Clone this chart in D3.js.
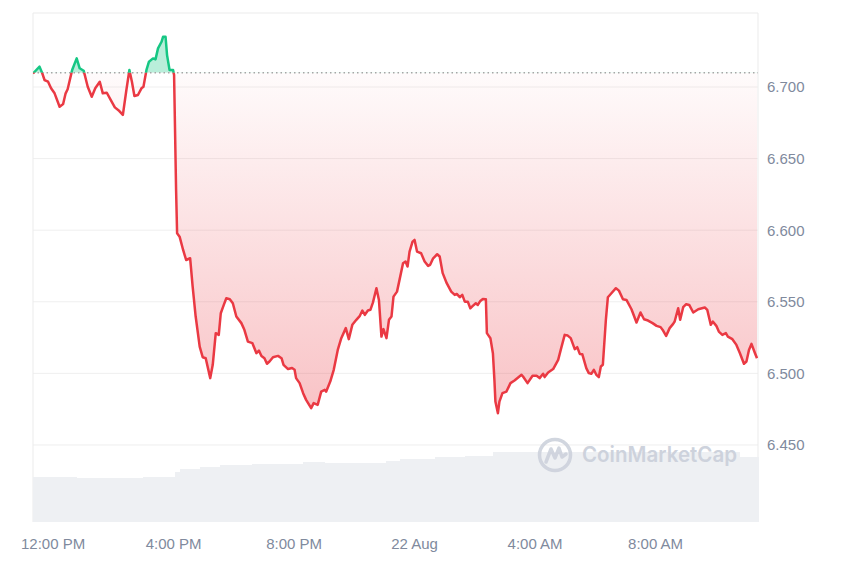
<!DOCTYPE html>
<html>
<head>
<meta charset="utf-8">
<script src="https://cdn.jsdelivr.net/npm/d3@7"></script>
<style>
  body { margin: 0; background: #fff; }
  text { font-family: "Liberation Sans", Arial, sans-serif; }
</style>
</head>
<body>
<svg id="chart"></svg>
<script>
// price points: [minutes from 12:00 PM on 21 Aug, price]
const pricePoints = [
  [-39,6.7095],[-26,6.7142],[-21,6.7100],[-16,6.7049],[-9,6.7037],[-3,6.6991],[4,6.6956],[14,6.6862],
  [21,6.6881],[26,6.6956],[30,6.6984],[39,6.7119],[48,6.7200],[54,6.7131],[62,6.7114],[70,6.7002],
  [78,6.6932],[85,6.6991],[94,6.7037],[100,6.6956],[108,6.6960],[116,6.6909],[124,6.6858],[133,6.6832],
  [140,6.6805],[147,6.6979],[153,6.7119],[158,6.7037],[163,6.6937],[170,6.6944],[177,6.6991],[181,6.7002],
  [187,6.7119],[192,6.7177],[200,6.7200],[205,6.7193],[210,6.7270],[217,6.7316],[220,6.7351],[225,6.7351],
  [228,6.7223],[233,6.7119],[240,6.7119],[242,6.7084],[246,6.6280],[248,6.5979],[253,6.5955],[260,6.5862],
  [266,6.5792],[274,6.5804],[279,6.5606],[285,6.5397],[293,6.5187],[299,6.5113],[305,6.5106],[314,6.4967],
  [319,6.5060],[325,6.5281],[331,6.5269],[335,6.5420],[341,6.5478],[346,6.5525],[353,6.5518],[359,6.5490],
  [366,6.5397],[376,6.5351],[382,6.5304],[389,6.5222],[398,6.5211],[406,6.5141],[411,6.5159],[416,6.5122],
  [422,6.5106],[427,6.5067],[432,6.5083],[439,6.5113],[449,6.5122],[456,6.5106],[460,6.5060],[469,6.5030],
  [477,6.5037],[482,6.5025],[485,6.4967],[492,6.4932],[499,6.4862],[505,6.4815],[515,6.4757],[520,6.4792],
  [528,6.4780],[535,6.4873],[542,6.4885],[545,6.4873],[553,6.4943],[560,6.5025],[568,6.5164],[575,6.5246],
  [584,6.5316],[590,6.5239],[597,6.5339],[605,6.5374],[612,6.5402],[617,6.5439],[622,6.5409],[628,6.5439],
  [633,6.5444],[638,6.5494],[645,6.5595],[650,6.5513],[655,6.5257],[659,6.5309],[665,6.5246],[670,6.5374],
  [675,6.5397],[679,6.5536],[686,6.5571],[691,6.5653],[698,6.5769],[703,6.5781],[707,6.5746],[711,6.5850],
  [717,6.5920],[721,6.5932],[726,6.5850],[734,6.5839],[741,6.5781],[748,6.5751],[752,6.5758],[758,6.5804],
  [766,6.5832],[771,6.5816],[777,6.5700],[785,6.5630],[794,6.5571],[801,6.5548],[805,6.5555],[811,6.5532],
  [816,6.5548],[821,6.5501],[827,6.5501],[832,6.5455],[837,6.5471],[843,6.5490],[847,6.5478],[852,6.5506],
  [857,6.5520],[863,6.5518],[865,6.5281],[872,6.5246],[877,6.5141],[880,6.4955],[882,6.4803],[887,6.4722],
  [890,6.4803],[896,6.4862],[904,6.4873],[912,6.4932],[920,6.4950],[934,6.4990],[937,6.4978],[946,6.4932],
  [956,6.4983],[964,6.4983],[970,6.4967],[977,6.4997],[980,6.4974],[987,6.5006],[997,6.5030],[1007,6.5094],
  [1013,6.5176],[1020,6.5269],[1026,6.5264],[1032,6.5246],[1040,6.5169],[1045,6.5183],[1050,6.5136],[1055,6.5134],
  [1063,6.5037],[1068,6.5002],[1073,6.4997],[1078,6.5025],[1083,6.4990],[1088,6.4974],[1092,6.5048],[1096,6.5060],
  [1102,6.5374],[1106,6.5532],[1113,6.5560],[1122,6.5595],[1128,6.5578],[1136,6.5518],[1143,6.5513],[1153,6.5448],
  [1163,6.5355],[1171,6.5425],[1178,6.5378],[1186,6.5369],[1195,6.5351],[1203,6.5332],[1211,6.5323],[1216,6.5299],
  [1222,6.5262],[1229,6.5316],[1236,6.5346],[1239,6.5362],[1246,6.5455],[1250,6.5374],[1256,6.5462],[1262,6.5483],
  [1268,6.5478],[1276,6.5425],[1286,6.5448],[1299,6.5460],[1304,6.5443],[1311,6.5339],[1315,6.5362],[1322,6.5332],
  [1327,6.5292],[1334,6.5269],[1341,6.5281],[1345,6.5257],[1354,6.5239],[1362,6.5199],[1369,6.5141],[1377,6.5067],
  [1382,6.5083],[1387,6.5164],[1392,6.5206],[1399,6.5141],[1403,6.5106]
];

// volume steps: [start minute, volume], last step runs to the end of the range
const volumeSteps = [
  [-39,45.3],[47,43.7],[180,45],[243,50.3],[253,52.7],[293,55.3],[333,57],[398,58.3],
  [498,59.7],[542,58.7],[558,59.3],[665,61],[691,62.7],[761,64.7],[821,66],[877,70],[1369,65.3]
];

const openPrice = 6.710;
const priceTicks = [6.45, 6.5, 6.55, 6.6, 6.65, 6.7];
const rangeMinutes = [-39, 1405];
const priceDomain = [6.3962, 6.7517];

const W = 850, H = 567;
const pLeft = 33, pRight = 758, pTop = 13, pBottom = 522;

const noon = new Date(2024, 7, 21, 12, 0);
const toDate = m => new Date(noon.getTime() + m * 60000);

const svg = d3.select("#chart").attr("width", W).attr("height", H);

const x = d3.scaleTime().domain(rangeMinutes.map(toDate)).range([pLeft, pRight]);
const y = d3.scaleLinear().domain(priceDomain).range([pBottom, pTop]);
const vy = d3.scaleLinear().domain([0, 100]).range([pBottom, pBottom - 100]);

const yBase = y(openPrice);

const defs = svg.append("defs");
defs.append("clipPath").attr("id", "clip-up")
  .append("rect").attr("x", pLeft).attr("y", pTop).attr("width", pRight - pLeft).attr("height", yBase - pTop);
defs.append("clipPath").attr("id", "clip-down")
  .append("rect").attr("x", pLeft).attr("y", yBase).attr("width", pRight - pLeft).attr("height", pBottom - yBase);

const grad = defs.append("linearGradient").attr("id", "red-grad")
  .attr("gradientUnits", "userSpaceOnUse")
  .attr("x1", 0).attr("x2", 0).attr("y1", yBase).attr("y2", 430);
grad.append("stop").attr("offset", 0).attr("stop-color", "#ea3943").attr("stop-opacity", 0.02);
grad.append("stop").attr("offset", 1).attr("stop-color", "#ea3943").attr("stop-opacity", 0.32);

// grid lines
svg.append("g").selectAll("line").data(priceTicks).join("line")
  .attr("x1", pLeft).attr("x2", pRight)
  .attr("y1", d => y(d)).attr("y2", d => y(d))
  .attr("stroke", "#efefef").attr("stroke-width", 1);

// plot border (left, top, right)
svg.append("path")
  .attr("d", `M${pLeft},${pBottom}V${pTop}H${pRight}V${pBottom}`)
  .attr("fill", "none").attr("stroke", "#ebebeb").attr("stroke-width", 1);

// volume
svg.append("g").attr("shape-rendering", "crispEdges")
  .selectAll("rect").data(volumeSteps).join("rect")
  .attr("x", d => x(toDate(d[0])))
  .attr("width", (d, i) => {
    const end = i < volumeSteps.length - 1 ? volumeSteps[i + 1][0] : rangeMinutes[1];
    return x(toDate(end)) - x(toDate(d[0])) + 0.5;
  })
  .attr("y", d => vy(d[1]))
  .attr("height", d => pBottom - vy(d[1]))
  .attr("fill", "#eef0f3");

// watermark
const wm = svg.append("g").attr("transform", "translate(555,455)").attr("opacity", 0.9);
wm.append("circle").attr("r", 15.5).attr("fill", "none").attr("stroke", "#cdd2dc").attr("stroke-width", 3.5);
wm.append("path").attr("d", "M-9,7 L-4,-6 L0,3 L4,-7 L7,2 L11,-1")
  .attr("fill", "none").attr("stroke", "#cdd2dc").attr("stroke-width", 3.5)
  .attr("stroke-linejoin", "round").attr("stroke-linecap", "round");
svg.append("text").attr("x", 582).attr("y", 462)
  .attr("textLength", 155).attr("lengthAdjust", "spacingAndGlyphs")
  .style("font-family", "Inter, 'Open Sans', sans-serif")
  .style("font-size", "21px").style("font-weight", 600)
  .attr("fill", "#cdd2dc").text("CoinMarketCap");

// area fills
const pts = pricePoints.map(d => ({ t: toDate(d[0]), v: d[1] }));
const area = d3.area().x(d => x(d.t)).y0(yBase).y1(d => y(d.v));
const line = d3.line().x(d => x(d.t)).y(d => y(d.v));

svg.append("path").datum(pts).attr("clip-path", "url(#clip-up)")
  .attr("d", area).attr("fill", "#16c784").attr("fill-opacity", 0.3);
svg.append("path").datum(pts).attr("clip-path", "url(#clip-down)")
  .attr("d", area).attr("fill", "url(#red-grad)");

// opening price reference
svg.append("line")
  .attr("x1", pLeft).attr("x2", pRight).attr("y1", yBase).attr("y2", yBase)
  .attr("stroke", "#a6a6a6").attr("stroke-width", 1.5).attr("stroke-dasharray", "1.5,3");

// price line in two colours
svg.append("path").datum(pts).attr("clip-path", "url(#clip-up)")
  .attr("d", line).attr("fill", "none").attr("stroke", "#16c784")
  .attr("stroke-width", 2.5).attr("stroke-linejoin", "round");
svg.append("path").datum(pts).attr("clip-path", "url(#clip-down)")
  .attr("d", line).attr("fill", "none").attr("stroke", "#ea3943")
  .attr("stroke-width", 2.5).attr("stroke-linejoin", "round");

// axes
const fmtTime = d3.timeFormat("%-I:%M %p");
const fmtDay = d3.timeFormat("%-d %b");
const xAxis = d3.axisBottom(x)
  .ticks(d3.timeHour.every(4))
  .tickFormat(d => d.getHours() === 0 ? fmtDay(d) : fmtTime(d))
  .tickSize(0).tickPadding(16);
const gx = svg.append("g").attr("transform", `translate(0,${pBottom})`).call(xAxis);
gx.select(".domain").remove();
gx.selectAll("text").attr("fill", "#808a9d").style("font-size", "15px")
  .style("font-family", "'Liberation Sans', Arial, sans-serif");

const yAxis = d3.axisRight(y).tickValues(priceTicks).tickFormat(d3.format(".3f"))
  .tickSize(0).tickPadding(9);
const gy = svg.append("g").attr("transform", `translate(${pRight},0)`).call(yAxis);
gy.select(".domain").remove();
gy.selectAll("text").attr("fill", "#808a9d").style("font-size", "15px")
  .style("font-family", "'Liberation Sans', Arial, sans-serif");
</script>
</body>
</html>
